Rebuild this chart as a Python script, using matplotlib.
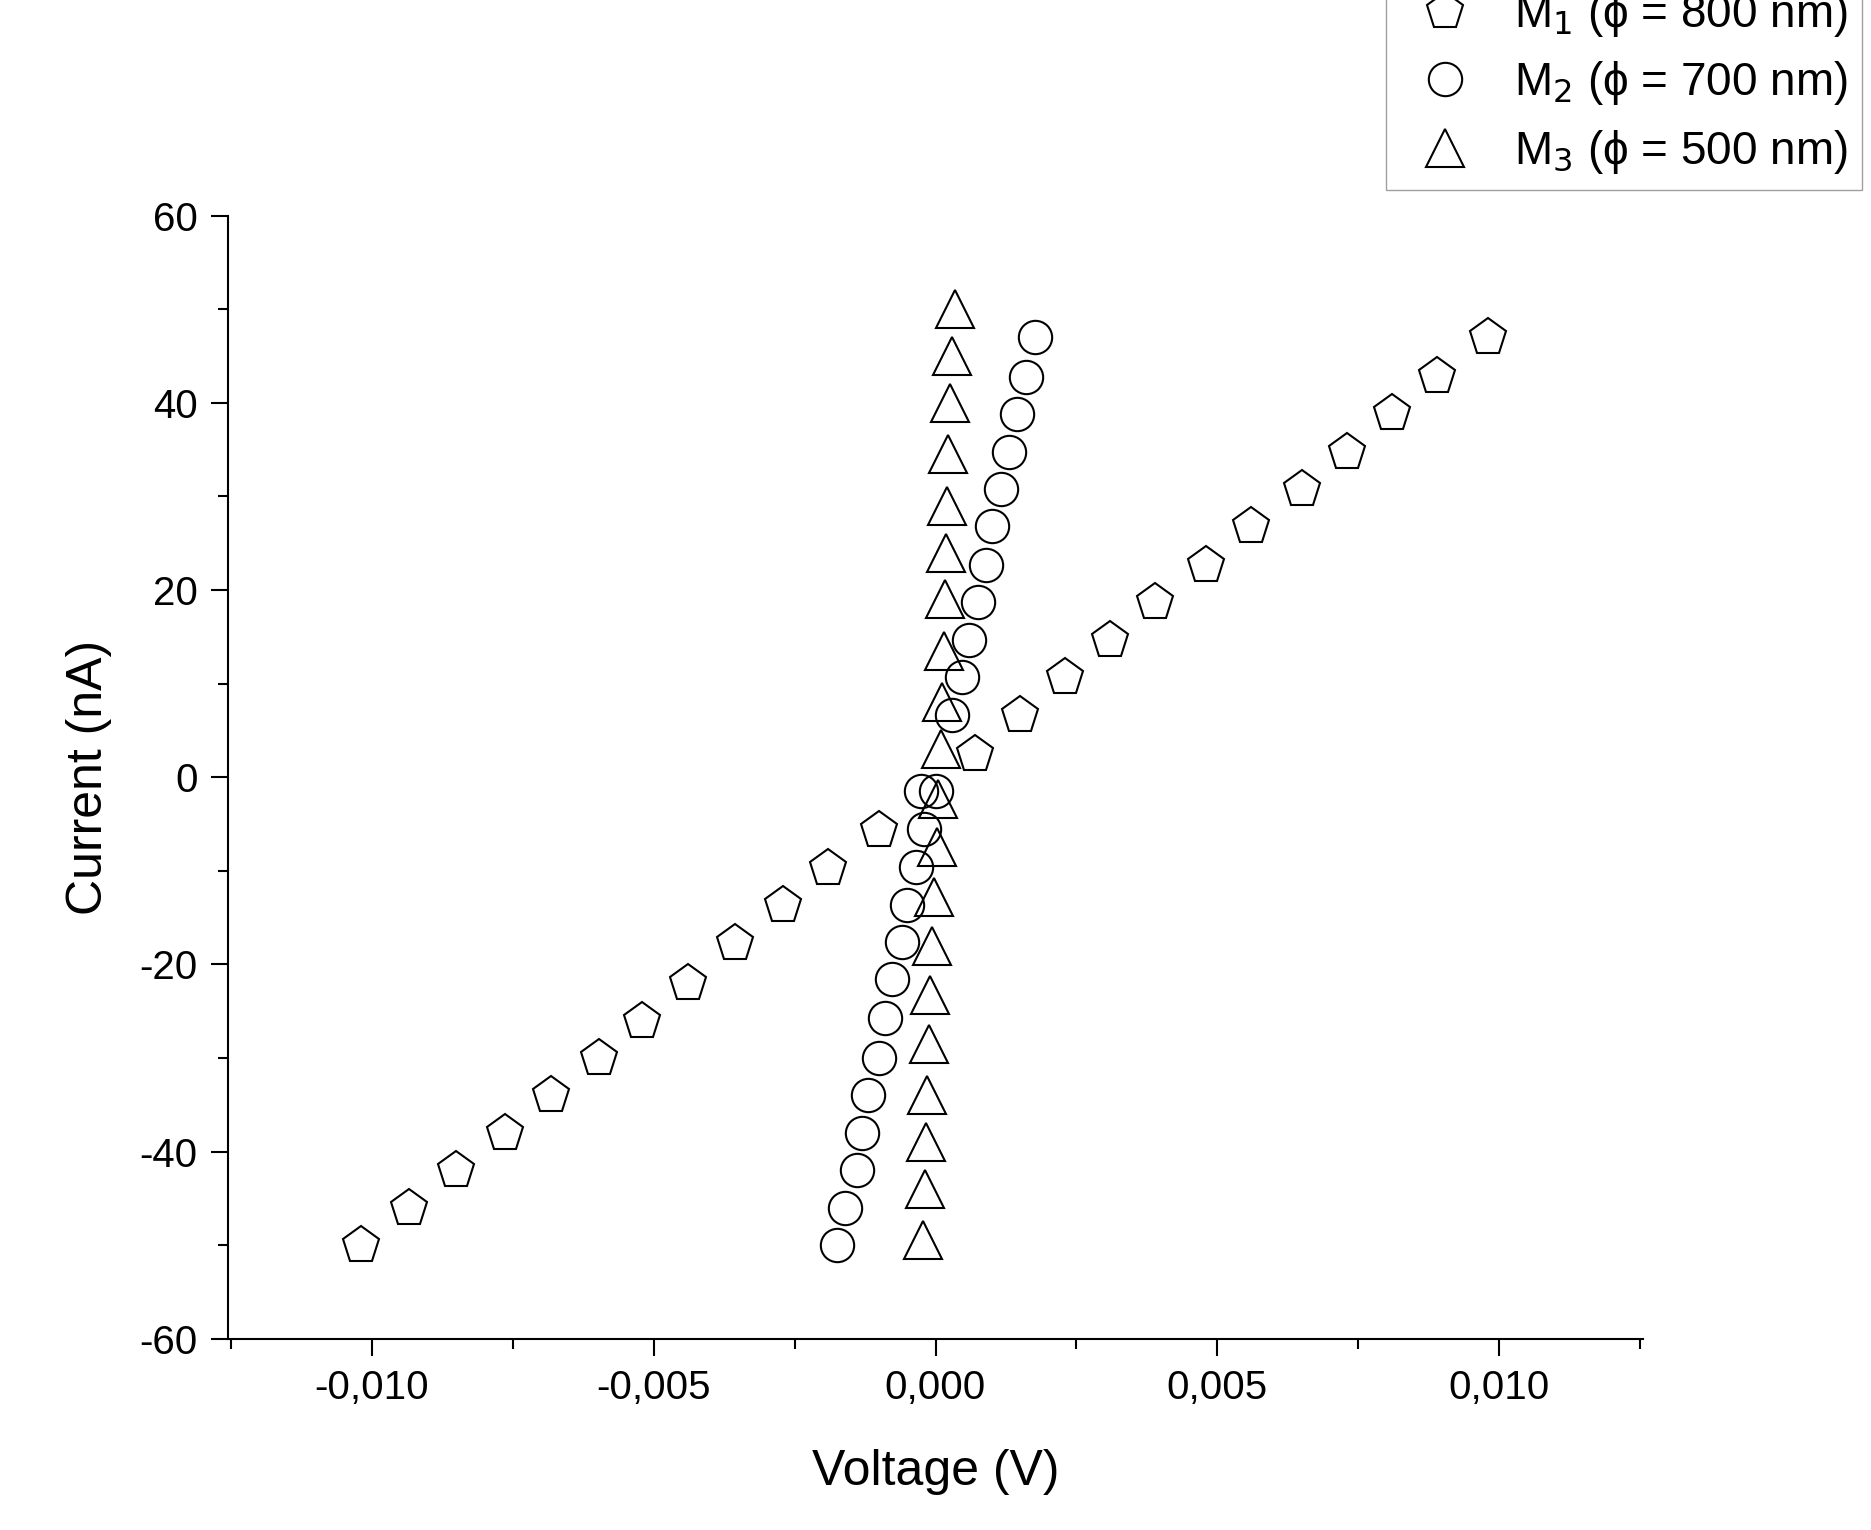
import numpy as np
import matplotlib.pyplot as plt
from matplotlib.ticker import FuncFormatter, MultipleLocator

# M1 (pentagons)
m1_v = [-0.0102, -0.00934, -0.0085, -0.00764, -0.00683, -0.00598, -0.0052, -0.0044, -0.00355, -0.0027, -0.0019, -0.0010,
        0.0007, 0.0015, 0.0023, 0.0031, 0.0039, 0.0048, 0.0056, 0.0065, 0.0073, 0.0081, 0.0089, 0.0098]
m1_i = [-50, -46, -42, -38, -34, -30, -26, -22, -17.7, -13.7, -9.7, -5.6,
        2.5, 6.6, 10.7, 14.7, 18.7, 22.7, 26.8, 30.8, 34.8, 38.9, 42.9, 47]
# M2 (circles)
m2_v = [-0.00175, -0.0016, -0.0014, -0.0013, -0.0012, -0.0010, -0.0009, -0.00077, -0.0006, -0.0005, -0.00034, -0.0002,
        -0.00025, 0.0000, 0.0003, 0.00047, 0.0006, 0.00075, 0.0009, 0.0010, 0.00117, 0.0013, 0.00145, 0.0016, 0.00177]
m2_i = [-50, -46, -42, -38, -34, -30, -25.7, -21.6, -17.6, -13.6, -9.6, -5.5,
        -1.5, -1.5, 6.6, 10.7, 14.7, 18.7, 22.7, 26.8, 30.8, 34.8, 38.8, 42.8, 47]
# M3 (triangles)
m3_v = [-0.00023, -0.00019, -0.00017, -0.00015, -0.00011, -0.00009, -0.00006, -0.00002, 0.00002, 0.00004,
        0.00009, 0.00011, 0.00015, 0.00017, 0.00019, 0.00021, 0.00023, 0.00026, 0.00030, 0.00034]
m3_i = [-49.5, -44, -39, -34, -28.5, -23.3, -18, -12.8, -7.5, -2.3,
        3, 8, 13.5, 19, 24, 29, 34.5, 40, 45, 50]

plt.rcParams['font.family'] = ['Liberation Sans', 'DejaVu Sans']
plt.rcParams['axes.unicode_minus'] = False
fig = plt.figure(figsize=(18.71, 15.3), dpi=100)
ax = fig.add_axes([0.122, 0.125, 0.756, 0.734])

ms = 28
ax.plot(m1_v, m1_i, 'p', ms=ms, mfc='white', mec='black', mew=1.5, ls='none', label='M$_1$ (\u03d5 = 800 nm)')
ax.plot(m2_v, m2_i, 'o', ms=ms - 4, mfc='none', mec='black', mew=1.5, ls='none', label='M$_2$ (\u03d5 = 700 nm)')
ax.plot(m3_v, m3_i, '^', ms=ms, mfc='none', mec='black', mew=1.5, ls='none', label='M$_3$ (\u03d5 = 500 nm)')

ax.set_xlim(-0.01255, 0.01255)
ax.set_ylim(-60, 60)
ax.xaxis.set_major_locator(MultipleLocator(0.005))
ax.xaxis.set_minor_locator(MultipleLocator(0.0025))
ax.yaxis.set_major_locator(MultipleLocator(20))
ax.yaxis.set_minor_locator(MultipleLocator(10))
ax.xaxis.set_major_formatter(FuncFormatter(lambda v, p: ('%.3f' % v).replace('.', ',').replace('-0,000', '0,000')))
ax.spines['top'].set_visible(False)
ax.spines['right'].set_visible(False)
for s in ['left', 'bottom']:
    ax.spines[s].set_linewidth(1.5)
ax.tick_params(which='major', length=12, width=1.5, labelsize=29, pad=10)
ax.tick_params(which='minor', length=7, width=1.5)
ax.set_xlabel('Voltage (V)', fontsize=36, labelpad=30)
ax.set_ylabel('Current (nA)', fontsize=36, labelpad=20)

leg = fig.legend(loc='upper right', bbox_to_anchor=(0.995, 1.015), fontsize=33, frameon=True,
                 fancybox=False, edgecolor='#888888', handletextpad=0.5, borderpad=0.3,
                 labelspacing=0.45, borderaxespad=0)
leg.get_frame().set_linewidth(1.0)

plt.savefig('out.png', dpi=100)
